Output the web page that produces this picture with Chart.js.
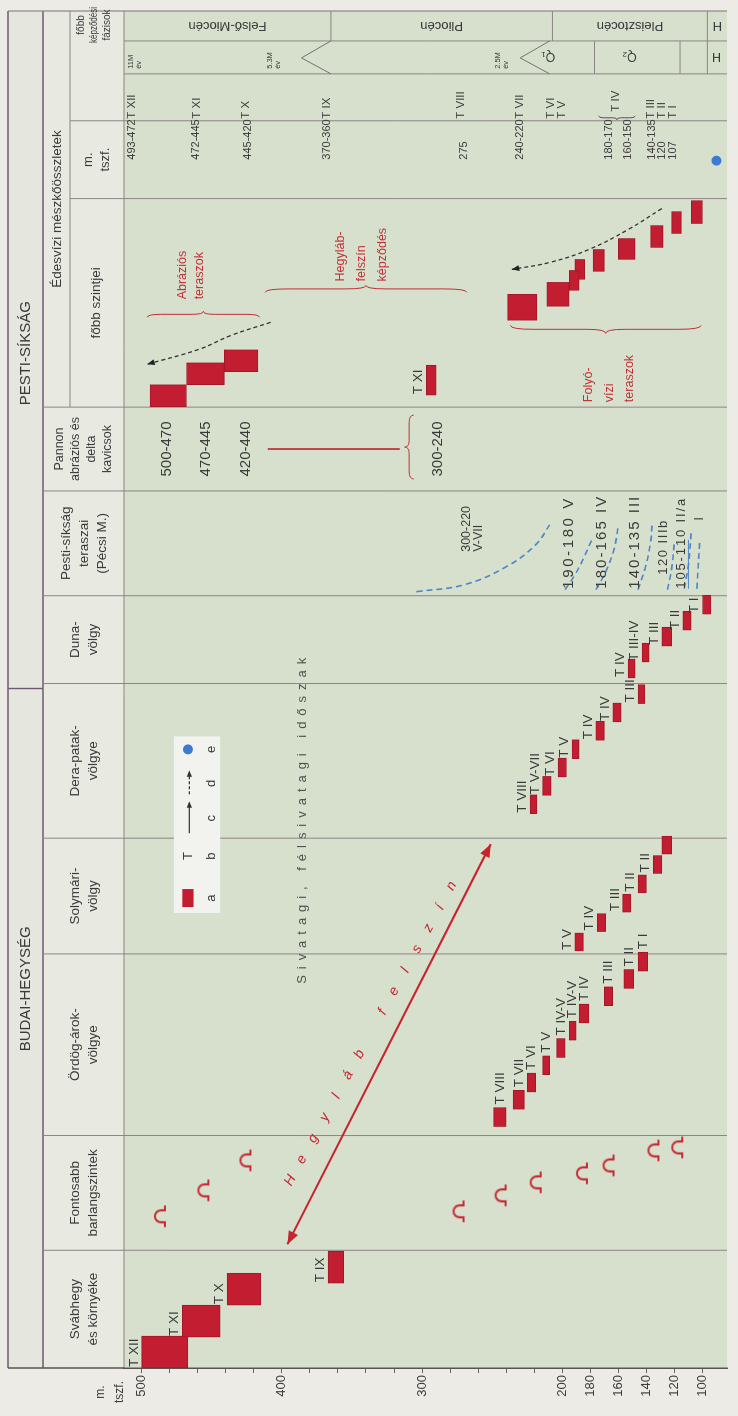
<!DOCTYPE html>
<html>
<head>
<meta charset="utf-8">
<script src="https://cdn.jsdelivr.net/npm/chart.js@4.4.1/dist/chart.umd.min.js"></script>
<style>
  html, body { margin: 0; padding: 0; background: #ecebe6; overflow: hidden; width: 738px; height: 1416px; }
  /* the chart is drawn lying on its side and turned upright afterwards */
  #wrap { position: absolute; left: 0; top: 0; width: 1416px; height: 738px;
          transform-origin: 0 0; transform: translateY(1416px) rotate(-90deg); }
</style>
</head>
<body>
<div id="wrap"><canvas id="chart" width="1416" height="738"></canvas></div>
<script>
// ---- data (elevations in m a.s.l.) ----
const tickValues = [500, 400, 300, 200, 180, 160, 140, 120, 100];
const tickLabels = ['500', '400', '300', '200', '180', '160', '140', '120', '100'];

const columnNames = [
  ['Svábhegy', 'és környéke'],
  ['Fontosabb', 'barlangszintek'],
  ['Ördög-árok-', 'völgye'],
  ['Solymári-', 'völgy'],
  ['Dera-patak-', 'völgye'],
  ['Duna-', 'völgy'],
  ['Pesti-síkság', 'teraszai', '(Pécsi M.)'],
  ['Pannon', 'abráziós és', 'delta', 'kavicsok']
];
const groupName = 'Édesvízi mészkőösszletek';
const subNames = [['főbb szintjei'], ['m.', 'tszf.'], ['főbb', 'képződési', 'fázisok']];
const sectionNames = ['BUDAI-HEGYSÉG', 'PESTI-SÍKSÁG'];

const svabLabels = ['T XII', 'T XI', 'T X', 'T IX'];
const svabElev = [[500, 467], [471, 444], [439, 415], [367, 356]];

const caveElev = [487, 456, 426, 274, 244, 219, 186, 167, 135, 118];

const ordogLabels = ['T VIII', 'T VII', 'T VI', 'T V', 'T IV-V', 'T IV-V', 'T IV', 'T III', 'T II', 'T I'];
const ordogElev = [[249, 240], [235, 227], [225, 219], [214, 209], [204, 198], [195, 190], [188, 181], [170, 164], [156, 149], [146, 139]];

const solyLabels = ['T V', 'T IV', 'T III', 'T II', 'T II', ''];
const solyElev = [[191, 185], [175, 169], [157, 151], [146, 140], [135, 129], [129, 122]];

const deraLabels = ['T VIII', 'T V-VII', 'T VI', 'T V', 'T IV', 'T IV', 'T III'];
const deraElev = [[223, 218], [214, 208], [203, 197], [193, 188], [176, 170], [164, 158], [146, 141]];

const dunaLabels = ['T IV', 'T III-IV', 'T III', 'T II', 'T I'];
const dunaElev = [[153, 148], [143, 138], [129, 122], [114, 108], [100, 94]];

const pestiLabels = ['300-220', '190-180 V', '180-165 IV', '140-135 III', '120 IIIb', '105-110 II/a', 'I'];
const pestiLabelElev = [268, 195, 172, 148, 128, 115, 102];
const pestiSubLabel = 'V-VII';
const pestiCurves = [
  [[778, 304], [785, 270], [803, 240], [825, 219], [845, 209]],
  [[780, 198], [795, 191], [811, 185], [830, 179]],
  [[780, 176], [798, 169], [821, 163], [845, 160]],
  [[780, 146], [801, 141], [828, 137], [846, 136]],
  [[780, 125], [801, 122], [828, 120]],
  [[781, 113], [805, 110], [838, 108]],
  [[781, 104], [828, 102]]
];

const pannonLabels = ['500-470', '470-445', '420-440', '300-240'];
const pannonElev = [482, 454, 426, 289];
const pannonLine = [410, 316];

const abrazElev = [[494, 468], [468, 441], [441, 417]];
const txiElev = [[297, 290]];
const fluvElev = [[239, 218], [211, 195], [195, 188], [191, 184], [178, 170], [160, 148], [137, 128], [122, 115], [108, 100]];
const abrazArrow = [[1048, 408], [1035, 436], [1021, 459], [1006, 496]];
const fluvArrow = [[1162, 129], [1141, 153], [1121, 181], [1108, 209], [1101, 236]];

const mtszfLabels = ['493-472', '472-445', '445-420', '370-360', '275', '240-220', '180-170', '160-150', '140-135', '120', '107'];
const mtszfElev = [507, 461, 424, 368, 270, 230, 167, 153, 136, 129, 121];
const fazisLabels = ['T XII', 'T XI', 'T X', 'T IX', 'T VIII', 'T VII', 'T VI', 'T V', 'T IV', 'T III', 'T II', 'T I'];
const fazisElev = [507, 461, 426, 368, 272, 230, 208, 200, 162, 137, 129, 121];
const springElev = [90];

const epochNames = ['Felső-Miocén', 'Pliocén', 'Pleisztocén', 'H'];
const epochBounds = [365, 207, 96.5];
const ageLabels = [['11M', 'év'], ['5.3M', 'év'], ['2.5M', 'év']];
const ageElev = [505, 406, 243];
const ageApex = [386, 230];
const ageArms = [365, 209];
const stageNames = ['Q₁', 'Q₂', 'H'];
const stageElev = [210, 152, 90];
const stageBounds = [177, 116, 96.5];

// ---- layout along the table (position units = px) ----
const colEdges = [0, 118, 233, 415, 531, 686, 774, 879, 963, 1172, 1250, 1297, 1330, 1360];
const svabPos = [16, 47, 79, 101];
const cavePos = [152, 178, 208, 157, 173, 186, 195, 203, 218, 221];
const ordogPos = ordogElev.map((_, i) => 251.5 + i * 17.3);
const solyPos = solyElev.map((_, i) => 427 + i * 19.4);
const deraPos = deraElev.map((_, i) => 565 + i * 18.4);
const dunaPos = dunaElev.map((_, i) => 701 + i * 16);
const abrazPos = [974.5, 996.5, 1009.5];
const fluvPos = [1063, 1076, 1090, 1101, 1110, 1121.5, 1134, 1148, 1158.5];
const fluvWidth = [26, 24, 20, 20, 22, 21, 22, 22, 23];

const RED = '#c21d31';
const INK = '#3a3a3a';
const FONT = '"Liberation Sans", Arial, sans-serif';

// cave symbol
const cave = document.createElement('canvas');
cave.width = 24; cave.height = 16;
(function () {
  const c = cave.getContext('2d');
  c.strokeStyle = '#c42a35'; c.lineWidth = 2.2; c.lineCap = 'round';
  c.beginPath();
  c.moveTo(2, 13); c.lineTo(6, 13); c.lineTo(6, 9);
  c.arc(12, 9, 6, Math.PI, 0);
  c.lineTo(18, 13); c.lineTo(22, 13);
  c.stroke();
})();

const datasets = [];
const boxCols = [];
function addBoxes(elev, pos, width, labels, place) {
  boxCols.push({ elev, pos, width, labels, place });
  elev.forEach((r, i) => datasets.push({
    type: 'bar',
    data: [{ x: pos[i], y: [r[1], r[0]] }],
    barThickness: Array.isArray(width) ? width[i] : width,
    backgroundColor: RED, borderColor: '#a3172a', borderWidth: 1,
    borderSkipped: false, grouped: false, order: 2
  }));
}
addBoxes(svabElev, svabPos, 32, svabLabels, 'above');
addBoxes(ordogElev, ordogPos, 19, ordogLabels, 'right');
addBoxes(solyElev, solyPos, 18, solyLabels, 'above');
addBoxes(deraElev, deraPos, 19, deraLabels, 'above');
addBoxes(dunaElev, dunaPos, 19, dunaLabels, 'above');
addBoxes(abrazElev, abrazPos, 22, [], 'none');
addBoxes(txiElev, [990], 30, ['T XI'], 'above');
addBoxes(fluvElev, fluvPos, fluvWidth, [], 'none');

datasets.push({
  type: 'scatter', data: caveElev.map((e, i) => ({ x: cavePos[i], y: e })),
  pointStyle: cave, pointRadius: 10, order: 1
});
pestiCurves.forEach(c => datasets.push({
  type: 'line', data: c.map(p => ({ x: p[0], y: p[1] })),
  borderColor: '#4f86c8', borderWidth: 1.6, borderDash: [6, 4], tension: 0.4,
  pointRadius: 0, fill: false, order: 1
}));
[abrazArrow, fluvArrow].forEach(c => datasets.push({
  type: 'line', data: c.map(p => ({ x: p[0], y: p[1] })),
  borderColor: '#333', borderWidth: 1.3, borderDash: [4, 3], tension: 0.4,
  pointRadius: 0, fill: false, order: 1, arrow: 'end', arrowColor: '#222'
}));
datasets.push({
  type: 'line', data: [{ x: 124, y: 396 }, { x: 525, y: 251 }],
  borderColor: '#c8242e', borderWidth: 2, pointRadius: 0, order: 1,
  arrow: 'both', arrowColor: '#c8242e'
});
datasets.push({
  type: 'line', data: [{ x: 921, y: pannonLine[0] }, { x: 921, y: pannonLine[1] }],
  borderColor: '#c0303a', borderWidth: 1, pointRadius: 0, order: 1
});
datasets.push({
  type: 'scatter', data: springElev.map(e => ({ x: 1210, y: e })),
  pointRadius: 5, backgroundColor: '#3d7bd0', borderWidth: 0, order: 1
});

// ---- drawing helpers ----
function text(ctx, s, x, y, o = {}) {
  ctx.save();
  ctx.font = (o.style || '') + ' ' + (o.size || 13) + 'px ' + FONT;
  ctx.fillStyle = o.color || INK;
  ctx.textAlign = o.align || 'center';
  ctx.textBaseline = o.base || 'middle';
  ctx.translate(x, y);
  if (o.rot) ctx.rotate(o.rot);
  if (o.max) ctx.fillText(s, 0, 0, o.max); else ctx.fillText(s, 0, 0);
  ctx.restore();
}
function spaced(ctx, s, x, y, len, o = {}) {
  ctx.save();
  ctx.font = (o.style || '') + ' ' + (o.size || 13) + 'px ' + FONT;
  ctx.fillStyle = o.color || INK;
  ctx.textAlign = 'left'; ctx.textBaseline = 'middle';
  const ch = [...s];
  const w = ch.map(c => ctx.measureText(c).width);
  const gap = ch.length > 1 ? Math.max(0, (len - w.reduce((a, b) => a + b, 0)) / (ch.length - 1)) : 0;
  let cx = x;
  ch.forEach((c, i) => { ctx.fillText(c, cx, y); cx += w[i] + gap; });
  ctx.restore();
}
function line(ctx, x1, y1, x2, y2, color, width) {
  ctx.save(); ctx.strokeStyle = color; ctx.lineWidth = width;
  ctx.beginPath(); ctx.moveTo(x1, y1); ctx.lineTo(x2, y2); ctx.stroke(); ctx.restore();
}
function head(ctx, from, to, size, color) {
  const a = Math.atan2(to.y - from.y, to.x - from.x);
  ctx.save(); ctx.fillStyle = color; ctx.beginPath();
  ctx.moveTo(to.x, to.y);
  ctx.lineTo(to.x - size * Math.cos(a - 0.38), to.y - size * Math.sin(a - 0.38));
  ctx.lineTo(to.x - size * Math.cos(a + 0.38), to.y - size * Math.sin(a + 0.38));
  ctx.closePath(); ctx.fill(); ctx.restore();
}
function brace(ctx, x1, y1, x2, y2, h, color) {
  const L = Math.hypot(x2 - x1, y2 - y1), ux = (x2 - x1) / L, uy = (y2 - y1) / L;
  const P = (s, t) => [x1 + ux * s - uy * t, y1 + uy * s + ux * t];
  ctx.save(); ctx.strokeStyle = color; ctx.lineWidth = 1;
  ctx.beginPath();
  ctx.moveTo(...P(0, 0));
  ctx.quadraticCurveTo(...P(0, h / 2), ...P(0.12 * L, h / 2));
  ctx.lineTo(...P(0.4 * L, h / 2));
  ctx.quadraticCurveTo(...P(0.5 * L, h / 2), ...P(0.5 * L, h));
  ctx.quadraticCurveTo(...P(0.5 * L, h / 2), ...P(0.6 * L, h / 2));
  ctx.lineTo(...P(0.88 * L, h / 2));
  ctx.quadraticCurveTo(...P(L, h / 2), ...P(L, 0));
  ctx.stroke(); ctx.restore();
}

const GRID = '#8c8585';
const PURPLE = '#6f5872';

const tablePlugin = {
  id: 'table',
  beforeDraw(chart) {
    const ctx = chart.ctx, ca = chart.chartArea;
    const X = v => chart.scales.x.getPixelForValue(v);
    const Y = v => chart.scales.y.getPixelForValue(v);
    const L = X(0), R = X(1360);
    ctx.save();
    ctx.fillStyle = '#ecebe6'; ctx.fillRect(0, 0, chart.width, chart.height);
    ctx.fillStyle = '#e5e7df'; ctx.fillRect(L, 8, R - L, 35);
    ctx.fillStyle = '#e8eae2'; ctx.fillRect(L, 43, R - L, ca.top - 43);
    ctx.fillStyle = '#d7e0cc'; ctx.fillRect(L, ca.top, R - L, ca.bottom - ca.top);
    ctx.restore();

    // table rules
    line(ctx, L, 8, R, 8, PURPLE, 1.6);
    line(ctx, L, 43, R, 43, PURPLE, 1.4);
    line(ctx, L, ca.top, R, ca.top, GRID, 1);
    line(ctx, X(963), 70, R, 70, GRID, 1);
    line(ctx, L, 8, L, ca.top, '#5a5252', 1.5);
    line(ctx, R, 8, R, ca.bottom, GRID, 1.2);
    line(ctx, X(681), 8, X(681), 43, PURPLE, 1.4);
    colEdges.slice(1, 9).forEach(e => line(ctx, X(e), 43, X(e), ca.bottom, GRID, 1));
    [1172, 1250].forEach(e => line(ctx, X(e), 70, X(e), ca.bottom, GRID, 1));
    [1297, 1330].forEach(e => line(ctx, X(e), ca.top, X(e), ca.bottom, GRID, 1));

    // time strips
    epochBounds.forEach(b => line(ctx, X(1330), Y(b), X(1360), Y(b), GRID, 1));
    stageBounds.forEach(b => line(ctx, X(1297), Y(b), X(1330), Y(b), GRID, 1));
    ageApex.forEach((a, i) => {
      line(ctx, X(1313), Y(a), X(1297), Y(ageArms[i]), '#666', 0.9);
      line(ctx, X(1313), Y(a), X(1330), Y(ageArms[i]), '#666', 0.9);
    });
  },
  afterDatasetsDraw(chart) {
    const ctx = chart.ctx;
    const X = v => chart.scales.x.getPixelForValue(v);
    const Y = v => chart.scales.y.getPixelForValue(v);

    // arrow heads
    chart.data.datasets.forEach((ds, i) => {
      if (!ds.arrow) return;
      const pts = chart.getDatasetMeta(i).data;
      const n = pts.length;
      if (ds.arrow === 'end' || ds.arrow === 'both') head(ctx, pts[n - 2], pts[n - 1], ds.arrow === 'both' ? 14 : 8, ds.arrowColor);
      if (ds.arrow === 'both') head(ctx, pts[1], pts[0], 14, ds.arrowColor);
    });

    // header texts
    text(ctx, sectionNames[0], X(380), 26, { size: 15 });
    text(ctx, sectionNames[1], X(1017), 26, { size: 15 });
    columnNames.forEach((lines, c) => {
      const cx = (X(colEdges[c]) + X(colEdges[c + 1])) / 2;
      const lh = lines.length > 3 ? 16 : 18;
      const size = lines.length > 3 ? 12.5 : 13.5;
      lines.forEach((s, k) => text(ctx, s, cx, 84 + (k - (lines.length - 1) / 2) * lh, { size }));
    });
    text(ctx, groupName, (X(963) + X(1360)) / 2, 57, { size: 13.5 });
    text(ctx, subNames[0][0], (X(963) + X(1172)) / 2, 96, { size: 13.5 });
    subNames[1].forEach((s, k) => text(ctx, s, (X(1172) + X(1250)) / 2, 88 + k * 17, { size: 13 }));
    subNames[2].forEach((s, k) => text(ctx, s, X(1346), 81 + k * 13, { size: 10, max: 36 }));
    text(ctx, 'm.', 24, 101, { size: 12 });
    text(ctx, 'tszf.', 24, 120, { size: 12 });

    // box labels
    boxCols.forEach(col => {
      col.labels.forEach((s, i) => {
        if (!s) return;
        const w = Array.isArray(col.width) ? col.width[i] : col.width;
        const r = col.elev[i];
        if (col.place === 'right') {
          text(ctx, s, X(col.pos[i] + w / 2) + 3, Y((r[0] + r[1]) / 2), { size: 13.5, align: 'left' });
        } else {
          text(ctx, s, X(col.pos[i] - w / 2) + 1, Y(r[0]) - 1, { size: 13.5, align: 'left', base: 'bottom' });
        }
      });
    });

    // Pesti-síkság terraces
    text(ctx, pestiLabels[0], X(818), Y(pestiLabelElev[0]), { size: 12.5, align: 'left' });
    text(ctx, pestiSubLabel, X(818), Y(260), { size: 12.5, align: 'left' });
    spaced(ctx, pestiLabels[1], X(781), Y(pestiLabelElev[1]), 90, { size: 15 });
    spaced(ctx, pestiLabels[2], X(781), Y(pestiLabelElev[2]), 92, { size: 15 });
    spaced(ctx, pestiLabels[3], X(781), Y(pestiLabelElev[3]), 92, { size: 15 });
    spaced(ctx, pestiLabels[4], X(795), Y(pestiLabelElev[4]), 54, { size: 13 });
    spaced(ctx, pestiLabels[5], X(781), Y(pestiLabelElev[5]), 90, { size: 13 });
    line(ctx, X(781), Y(pestiLabelElev[5]) + 7, X(830), Y(pestiLabelElev[5]) + 7, '#4f86c8', 1);
    text(ctx, pestiLabels[6], X(851), Y(pestiLabelElev[6]), { size: 12 });

    // Pannon column
    pannonLabels.forEach((s, i) => text(ctx, s, X(921), Y(pannonElev[i]), { size: 15 }));
    brace(ctx, X(891), Y(306), X(955), Y(306), -9, '#c0303a');

    // main levels column
    brace(ctx, X(1053), Y(496), X(1053), Y(416), -6, '#c0303a');
    brace(ctx, X(1078), Y(412), X(1078), Y(268), -7, '#c0303a');
    brace(ctx, X(1045), Y(237), X(1045), Y(101), 8, '#c0303a');
    ['Abráziós', 'teraszok'].forEach((s, k) => text(ctx, s, X(1071), Y(471 - k * 12), { size: 12.5, align: 'left', color: '#c0303a' }));
    ['Hegyláb-', 'felszín', 'képződés'].forEach((s, k) => text(ctx, s, X(1089), Y(358 - k * 15), { size: 12.5, align: 'left', color: '#c0303a' }));
    ['Folyó-', 'vízi', 'teraszok'].forEach((s, k) => text(ctx, s, X(968), Y(181 - k * 14.5), { size: 12.5, align: 'left', color: '#c0303a' }));

    // m. tszf. and phases
    mtszfLabels.forEach((s, i) => text(ctx, s, X(1211), Y(mtszfElev[i]), { size: 11, align: 'left' }));
    fazisLabels.forEach((s, i) => text(ctx, s, X(i === 8 ? 1259 : 1252), Y(fazisElev[i]), { size: 11.5, align: 'left' }));
    brace(ctx, X(1255), Y(174), X(1255), Y(148), 4, '#555');

    // time strips
    const eb = [chart.scales.y.max, ...epochBounds, chart.scales.y.min];
    epochNames.forEach((s, i) => text(ctx, s, X(1345), Y((eb[i] + eb[i + 1]) / 2), { size: 13, rot: -Math.PI / 2 }));
    ageLabels.forEach((a, i) => a.forEach((s, k) => text(ctx, s, X(1302), Y(ageElev[i]) + (k - 0.5) * 8, { size: 7.5, align: 'left' })));
    stageNames.forEach((s, i) => text(ctx, s, X(1314), Y(stageElev[i]), { size: 12.5, rot: -Math.PI / 2 }));

    // desert period and foothill surface
    spaced(ctx, 'Sivatagi, félsivatagi időszak', X(385), Y(385), 326, { size: 13, color: '#505050' });
    const h0 = [X(188), Y(394)], h1 = [X(483), Y(279)];
    const hs = [...'Hegyláb felszín'];
    const ang = Math.atan2(h1[1] - h0[1], h1[0] - h0[0]);
    hs.forEach((c, i) => {
      const t = i / (hs.length - 1);
      text(ctx, c, h0[0] + (h1[0] - h0[0]) * t, h0[1] + (h1[1] - h0[1]) * t, { size: 14, style: 'italic', color: '#c8242e', rot: ang });
    });

    // legend
    ctx.save();
    ctx.fillStyle = '#f2f3ef';
    ctx.fillRect(X(456), Y(477), X(633) - X(456), Y(444) - Y(477));
    ctx.fillStyle = RED;
    ctx.fillRect(X(462), Y(471), X(480) - X(462), Y(463) - Y(471));
    ctx.restore();
    text(ctx, 'T', X(513), Y(467), { size: 13 });
    line(ctx, X(536), Y(466), X(566), Y(466), '#333', 1.2);
    head(ctx, { x: X(556), y: Y(466) }, { x: X(568), y: Y(466) }, 7, '#333');
    ctx.save(); ctx.setLineDash([3, 2]);
    line(ctx, X(575), Y(466), X(596), Y(466), '#333', 1.2);
    ctx.restore();
    head(ctx, { x: X(588), y: Y(466) }, { x: X(599), y: Y(466) }, 7, '#333');
    ctx.save(); ctx.fillStyle = '#3d7bd0'; ctx.beginPath();
    ctx.arc(X(620), Y(467), 5, 0, Math.PI * 2); ctx.fill(); ctx.restore();
    ['a', 'b', 'c', 'd', 'e'].forEach((s, i) => text(ctx, s, X([471, 513, 551, 586, 620][i]), Y(450), { size: 13 }));
  }
};

const minorTicks = [];
for (let v = 100; v <= 500; v += 20) minorTicks.push(v);

const chart = new Chart(document.getElementById('chart'), {
  type: 'bar',
  data: { datasets },
  options: {
    responsive: false,
    animation: false,
    events: [],
    layout: { padding: { top: 124, right: 8, left: 0, bottom: 0 } },
    plugins: { legend: { display: false }, tooltip: { enabled: false } },
    scales: {
      x: { type: 'linear', min: 0, max: 1360, offset: false, display: false },
      y: {
        type: 'linear', min: 82.5, max: 512.6,
        afterFit: s => { s.width = 48; },
        afterBuildTicks: s => { s.ticks = minorTicks.map(v => ({ value: v })); },
        border: { display: true, color: '#5a5252', width: 1.5 },
        grid: { drawOnChartArea: false, drawTicks: true, tickLength: 5, color: '#666' },
        ticks: {
          autoSkip: false, padding: 2, color: '#3d3d3d',
          font: { size: 13, family: FONT },
          callback: v => { const i = tickValues.indexOf(v); return i >= 0 ? tickLabels[i] : ''; }
        }
      }
    }
  },
  plugins: [tablePlugin]
});
</script>
</body>
</html>
